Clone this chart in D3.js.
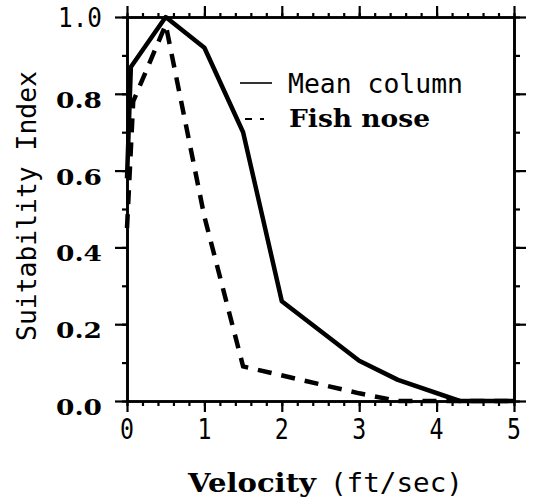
<!DOCTYPE html>
<html>
<head>
<meta charset="utf-8">
<script src="https://cdn.jsdelivr.net/npm/d3@7"></script>
<style>
  html, body { margin: 0; padding: 0; background: #fff; }
  svg { display: block; }
</style>
</head>
<body>
<div id="chart"></div>
<script>
// Values.
const meanVelocity = [0, 0.05, 0.5, 1.0, 1.5, 2.0, 3.0, 3.5, 4.3, 5.0];
const meanSuitability = [0.58, 0.87, 1.0, 0.92, 0.7, 0.26, 0.105, 0.055, 0.0, 0.0];

const noseVelocity = [0, 0.08, 0.5, 1.0, 1.5, 3.0, 3.5, 5.0];
const noseSuitability = [0.45, 0.78, 0.98, 0.48, 0.09, 0.02, 0.0, 0.0];

const xTickLabels = ["0", "1", "2", "3", "4", "5"];
const yTickLabels = ["0.0", "0.2", "0.4", "0.6", "0.8", "1.0"];
const legendLabels = ["Mean column", "Fish nose"];

const width = 534, height = 503;
const margin = { top: 17, right: 20, bottom: 102, left: 127 };

const x = d3.scaleLinear().domain([0, 5]).range([margin.left, width - margin.right]);
const y = d3.scaleLinear().domain([0, 1]).range([height - margin.bottom, margin.top]);

const svg = d3.select("#chart").append("svg")
    .attr("width", width)
    .attr("height", height);

const monoFont = "'DejaVu Sans Mono', monospace";
const serifFont = "'DejaVu Serif', 'Liberation Serif', serif";

const xMinor = d3.range(0, 5.001, 0.2);
const yMinor = d3.range(0, 1.001, 0.1);
const xMajor = xTickLabels.map(Number);
const yMajor = yTickLabels.map(Number);

function styleAxis(g) {
    g.select(".domain").attr("stroke", "#000").attr("stroke-width", 2.6);
    g.selectAll(".tick line").attr("stroke", "#000").attr("stroke-width", 2.2);
    g.selectAll(".tick text").remove();
}

// Minor ticks first, then major ticks on all four sides.
const plotB = height - margin.bottom, plotR = width - margin.right;
[[d3.axisBottom(x).tickValues(xMinor).tickSize(5), `translate(0,${plotB})`],
 [d3.axisBottom(x).tickValues(xMajor).tickSize(11), `translate(0,${plotB})`],
 [d3.axisTop(x).tickValues(xMinor).tickSize(4), `translate(0,${margin.top})`],
 [d3.axisTop(x).tickValues(xMajor).tickSize(11), `translate(0,${margin.top})`],
 [d3.axisLeft(y).tickValues(yMinor).tickSize(5), `translate(${margin.left},0)`],
 [d3.axisLeft(y).tickValues(yMajor).tickSize(12), `translate(${margin.left},0)`],
 [d3.axisRight(y).tickValues(yMinor).tickSize(6), `translate(${plotR},0)`],
 [d3.axisRight(y).tickValues(yMajor).tickSize(12), `translate(${plotR},0)`]
].forEach(([axis, tr]) => {
    svg.append("g").attr("transform", tr).call(axis.tickSizeOuter(0)).call(styleAxis);
});

// X tick labels (thin, narrow plotter font).
svg.append("g").selectAll("text")
    .data(xTickLabels)
    .join("text")
    .attr("x", d => x(+d))
    .attr("y", plotB + 38)
    .attr("text-anchor", "middle")
    .attr("font-family", monoFont)
    .attr("font-size", 29)
    .attr("transform", d => `translate(${x(+d)},0) scale(0.8,1) translate(${-x(+d)},0)`)
    .text(d => d);

// Y tick labels: the top one is the thin font, the rest bold serif.
svg.append("g").selectAll("text")
    .data(yTickLabels)
    .join("text")
    .attr("x", 102)
    .attr("y", d => +d === 1 ? y(+d) + 10 : y(+d) + 14)
    .attr("text-anchor", "end")
    .attr("font-family", d => +d === 1 ? monoFont : serifFont)
    .attr("font-weight", d => +d === 1 ? "normal" : "bold")
    .attr("font-size", d => +d === 1 ? 27 : 23)
    .attr("textLength", d => +d === 1 ? 44 : 46)
    .attr("lengthAdjust", "spacingAndGlyphs")
    .text(d => d);

// Axis titles.
svg.append("text")
    .attr("transform", `translate(36,${y(0.5) - 3}) rotate(-90)`)
    .attr("text-anchor", "middle")
    .attr("font-family", monoFont)
    .attr("font-size", 26)
    .attr("textLength", 270)
    .attr("lengthAdjust", "spacingAndGlyphs")
    .text("Suitability Index");

const xTitle = svg.append("text")
    .attr("x", 188)
    .attr("y", 492);
xTitle.append("tspan")
    .attr("font-family", serifFont)
    .attr("font-weight", "bold")
    .attr("font-size", 26)
    .attr("textLength", 128)
    .attr("lengthAdjust", "spacingAndGlyphs")
    .text("Velocity");
xTitle.append("tspan")
    .attr("x", 330)
    .attr("font-family", monoFont)
    .attr("font-size", 27)
    .attr("textLength", 133)
    .attr("lengthAdjust", "spacingAndGlyphs")
    .text("(ft/sec)");

// Data lines.
const line = d3.line().x(d => x(d[0])).y(d => y(d[1]));

svg.append("path")
    .datum(meanVelocity.map((v, i) => [v, meanSuitability[i]]))
    .attr("d", line)
    .attr("fill", "none")
    .attr("stroke", "#000")
    .attr("stroke-width", 4.5)
    .attr("stroke-linejoin", "round");

svg.append("path")
    .datum(noseVelocity.map((v, i) => [v, noseSuitability[i]]))
    .attr("d", line)
    .attr("fill", "none")
    .attr("stroke", "#000")
    .attr("stroke-width", 4.5)
    .attr("stroke-dasharray", "14,10");

// Legend.
const legend = svg.append("g");
legend.append("line")
    .attr("x1", 240).attr("x2", 272).attr("y1", 83).attr("y2", 83)
    .attr("stroke", "#000").attr("stroke-width", 1.6);
legend.append("line")
    .attr("x1", 245).attr("x2", 264).attr("y1", 119).attr("y2", 119)
    .attr("stroke", "#000").attr("stroke-width", 2)
    .attr("stroke-dasharray", "7,8");
legend.append("text")
    .attr("x", 288).attr("y", 93)
    .attr("font-family", monoFont)
    .attr("font-size", 26)
    .attr("textLength", 175)
    .attr("lengthAdjust", "spacingAndGlyphs")
    .text(legendLabels[0]);
legend.append("text")
    .attr("x", 289).attr("y", 127)
    .attr("font-family", serifFont)
    .attr("font-weight", "bold")
    .attr("font-size", 24)
    .attr("textLength", 141)
    .attr("lengthAdjust", "spacingAndGlyphs")
    .text(legendLabels[1]);
</script>
</body>
</html>
